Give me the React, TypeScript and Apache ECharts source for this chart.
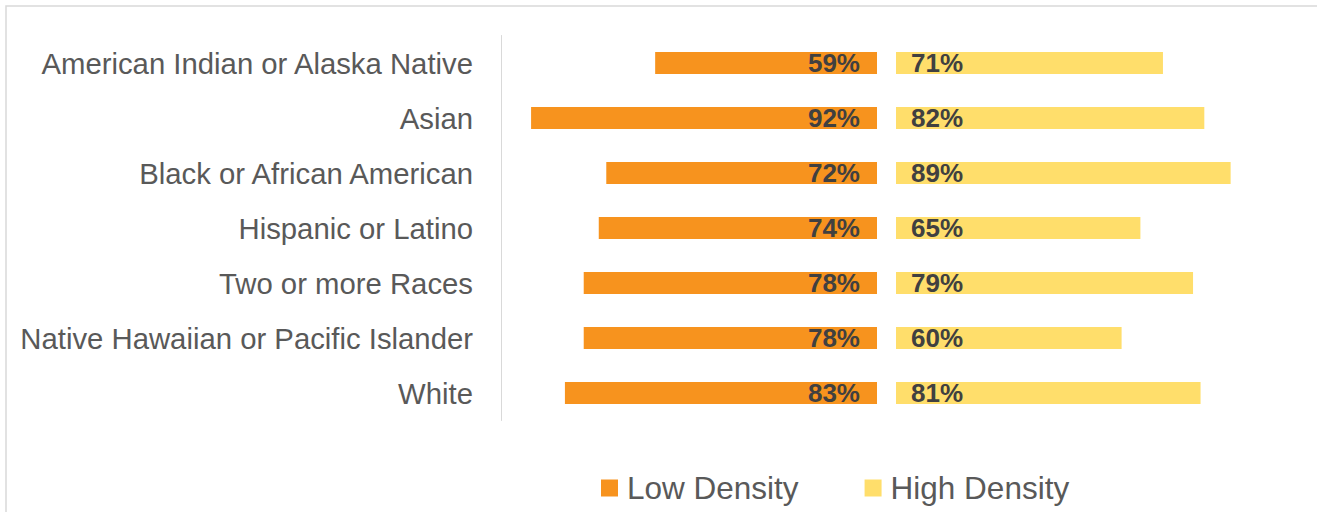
import React, { useEffect, useRef } from "react";
import * as echarts from "echarts";

const categories = [
  "American Indian or Alaska Native",
  "Asian",
  "Black or African American",
  "Hispanic or Latino",
  "Two or more Races",
  "Native Hawaiian or Pacific Islander",
  "White",
];
const lowDensity = [59, 92, 72, 74, 78, 78, 83];
const highDensity = [71, 82, 89, 65, 79, 60, 81];
const seriesNames = ["Low Density", "High Density"];

export default function App() {
  const ref = useRef<HTMLDivElement>(null);
  useEffect(() => {
    if (!ref.current) return;
    const chart = echarts.init(ref.current, null, { renderer: "svg" });
    const font = "'Liberation Sans', Arial, sans-serif";
    chart.setOption({
      animation: false,
      backgroundColor: "#ffffff",
      textStyle: { fontFamily: font },
      graphic: [
        {
          type: "rect",
          shape: { x: 6, y: 6, width: 1400, height: 600 },
          style: { fill: "none", stroke: "#d9d9d9", lineWidth: 1.5 },
          silent: true,
        },
      ],
      legend: {
        left: 596,
        top: 467,
        itemWidth: 17,
        itemHeight: 17,
        itemGap: 66,
        icon: "rect",
        textStyle: { fontSize: 31.5, color: "#595959", fontFamily: font, padding: [0, 0, 0, 4] },
        data: seriesNames,
      },
      grid: [
        { left: 501, width: 376, top: 35.5, height: 385 },
        { left: 896, width: 376, top: 35.5, height: 385 },
      ],
      xAxis: [
        { type: "value", gridIndex: 0, min: 0, max: 100, inverse: true, show: false },
        { type: "value", gridIndex: 1, min: 0, max: 100, show: false },
      ],
      yAxis: [
        {
          type: "category",
          gridIndex: 0,
          data: categories,
          inverse: true,
          position: "left",
          axisLine: { show: true, onZero: false, lineStyle: { color: "#d9d9d9", width: 1 } },
          axisTick: { show: false },
          axisLabel: { fontSize: 29.3, color: "#595959", margin: 28, fontFamily: font },
          splitLine: { show: false },
        },
        {
          type: "category",
          gridIndex: 1,
          data: categories,
          inverse: true,
          show: false,
        },
      ],
      series: [
        {
          name: seriesNames[0],
          type: "bar",
          xAxisIndex: 0,
          yAxisIndex: 0,
          data: lowDensity,
          barWidth: 22,
          itemStyle: { color: "#F7931E" },
          label: {
            show: true,
            position: "insideRight",
            distance: 17,
            formatter: "{c}%",
            fontSize: 26,
            fontWeight: "bold",
            color: "#404040",
            fontFamily: font,
          },
        },
        {
          name: seriesNames[1],
          type: "bar",
          xAxisIndex: 1,
          yAxisIndex: 1,
          data: highDensity,
          barWidth: 22,
          itemStyle: { color: "#FFDE6B" },
          label: {
            show: true,
            position: "insideLeft",
            distance: 15,
            formatter: "{c}%",
            fontSize: 26,
            fontWeight: "bold",
            color: "#404040",
            fontFamily: font,
          },
        },
      ],
    });
    return () => chart.dispose();
  }, []);
  return (
    <div
      ref={ref}
      style={{ position: "absolute", left: 0, top: 0, width: 1317, height: 512 }}
    />
  );
}
